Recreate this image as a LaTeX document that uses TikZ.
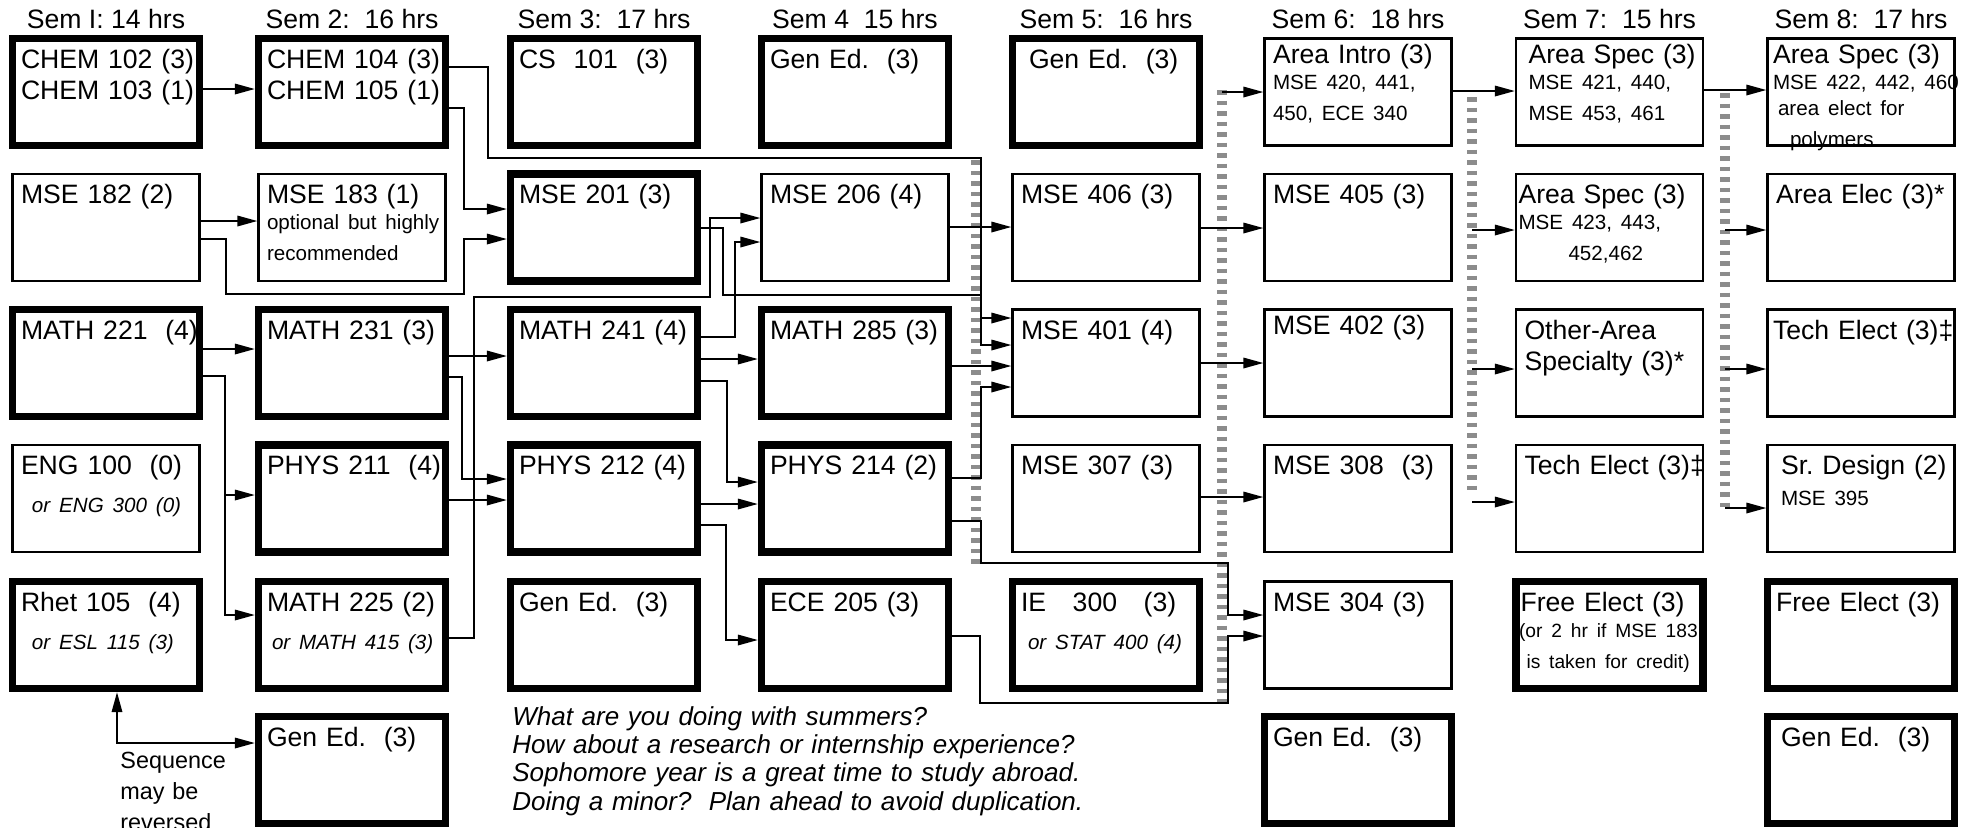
\documentclass[tikz,border=0pt]{standalone}
\usepackage{fontspec}
\setmainfont{Liberation Sans}
\usetikzlibrary{arrows.meta}
\frenchspacing

\newcommand{\subtxt}{\fontsize{10.3}{13}\selectfont}
\newcommand{\alttxt}{\fontsize{10.3}{13}\selectfont\itshape}

\begin{document}
\begin{tikzpicture}[
  x=0.5pt, y=-0.5pt,
  course/.style={draw, line width=1.1pt, text width=85pt, inner xsep=4.25pt, inner ysep=3pt,
    text height=11.75pt, text depth=35.75pt, font=\fontsize{13.3}{15.5}\selectfont,
    execute at begin node={\rightskip=0pt plus 1fil minus 40pt\relax}},
  core/.style={course, line width=3.6pt},
  high/.style={text height=9.25pt, text depth=38.25pt},
  semhead/.style={anchor=base, inner sep=0pt, font=\fontsize{13.3}{16}\selectfont},
  note/.style={anchor=base west, inner sep=0pt, align=left},
  arr/.style={-{Triangle[length=10pt,width=5.2pt]}, line width=1pt},
  twoway/.style={arr, {Triangle[length=10pt,width=5.2pt]}-{Triangle[length=10pt,width=5.2pt]}},
  bus/.style={line width=5pt, black!45, dash pattern=on 2.3pt off 2.95pt}
]
\useasboundingbox (0,0) rectangle (1967,827);

\node[semhead] (sem1) at (106,28) {Sem I: 14 hrs};
\node[semhead] (sem2) at (352,28) {Sem 2:~ 16 hrs};
\node[semhead] (sem3) at (604,28) {Sem 3:~ 17 hrs};
\node[semhead] (sem4) at (855,28) {Sem 4~ 15 hrs};
\node[semhead] (sem5) at (1106,28) {Sem 5:~ 16 hrs};
\node[semhead] (sem6) at (1358,28) {Sem 6:~ 18 hrs};
\node[semhead] (sem7) at (1609.5,28) {Sem 7:~ 15 hrs};
\node[semhead] (sem8) at (1861,28) {Sem 8:~ 17 hrs};

\node[core] (chem102) at (106,92) {CHEM 102 (3)\\CHEM 103 (1)};
\node[course] (mse182) at (106,227.5) {MSE 182 (2)};
\node[core] (math221) at (106,363) {MATH 221~ (4)};
\node[course] (eng100) at (106,498.5) {ENG 100~ (0)\\[3.5pt]\alttxt\hspace*{5.5pt}or ENG 300 (0)};
\node[core] (rhet105) at (106,635) {Rhet 105~ (4)\\[3.5pt]\alttxt\hspace*{5.5pt}or ESL 115 (3)};

\node[core] (chem104) at (352,92) {CHEM 104 (3)\\CHEM 105 (1)};
\node[course] (mse183) at (352,227.5) {MSE 183 (1)\\\subtxt optional but highly\\recommended};
\node[core] (math231) at (352,363) {MATH 231 (3)};
\node[core] (phys211) at (352,498.5) {PHYS 211~ (4)};
\node[core] (math225) at (352,635) {MATH 225 (2)\\[3.5pt]\alttxt\hspace*{2.5pt}or MATH 415 (3)};
\node[core] (gened2) at (352,770) {Gen Ed.~ (3)};

\node[core] (cs101) at (604,92) {CS~ 101~ (3)};
\node[core] (mse201) at (604,227.5) {MSE 201 (3)};
\node[core] (math241) at (604,363) {MATH 241 (4)};
\node[core] (phys212) at (604,498.5) {PHYS 212 (4)};
\node[core] (gened3) at (604,635) {Gen Ed.~ (3)};

\node[core] (gened4) at (855,92) {Gen Ed.~ (3)};
\node[course] (mse206) at (855,227.5) {MSE 206 (4)};
\node[core] (math285) at (855,363) {MATH 285 (3)};
\node[core] (phys214) at (855,498.5) {PHYS 214 (2)};
\node[core] (ece205) at (855,635) {ECE 205 (3)};

\node[core] (gened5) at (1106,92) {\hspace*{4pt}Gen Ed.~ (3)};
\node[course] (mse406) at (1106,227.5) {MSE 406 (3)};
\node[course] (mse401) at (1106,363) {MSE 401 (4)};
\node[course] (mse307) at (1106,498.5) {MSE 307 (3)};
\node[core] (ie300) at (1106,635) {IE~~ 300~~ (3)\\[3.5pt]\alttxt\hspace*{3.5pt}or STAT 400 (4)};

\node[course, high] (intro6) at (1358,92) {Area Intro (3)\\\subtxt MSE 420, 441,\\450, ECE 340};
\node[course] (mse405) at (1358,227.5) {MSE 405 (3)};
\node[course, high] (mse402) at (1358,363) {MSE 402 (3)};
\node[course] (mse308) at (1358,498.5) {MSE 308~ (3)};
\node[course] (mse304) at (1358,635) {MSE 304 (3)};
\node[core] (gened6) at (1358,770) {Gen Ed.~ (3)};

\node[course, high] (spec7a) at (1609.5,92) {\hspace*{2pt}Area Spec (3)\\\subtxt\hspace*{2pt}MSE 421, 440,\\\hspace*{2pt}MSE 453, 461};
\node[course] (spec7b) at (1609.5,227.5) {\hspace*{-3pt}Area Spec (3)\\\subtxt\hspace*{-3pt}MSE 423, 443,\\\hspace*{22pt}452,462};
\node[course] (other7) at (1609.5,363) {Other-Area\\Specialty (3)*};
\node[course] (tech7) at (1609.5,498.5) {Tech Elect (3)\ddag};
\node[core] (free7) at (1609.5,635) {\hspace*{-2pt}Free Elect (3)\\\fontsize{9.6}{13}\selectfont\hspace*{-2.75pt}(or 2 hr if MSE 183\\\hspace*{1pt}is taken for credit)};

\node[course, high] (spec8) at (1861,92) {\hspace*{-1.5pt}Area Spec (3)\\\subtxt\hspace*{-1.5pt}MSE 422, 442, 460\\\hspace*{1pt}area elect for\\\hspace*{7pt}polymers};
\node[course] (elec8) at (1861,227.5) {Area Elec (3)*};
\node[course] (tech8) at (1861,363) {\hspace*{-1.5pt}Tech Elect (3)\ddag};
\node[course] (design8) at (1861,498.5) {\hspace*{2.5pt}Sr. Design (2)\\\subtxt\hspace*{2.5pt}MSE 395};
\node[core] (free8) at (1861,635) {Free Elect (3)};
\node[core] (gened8) at (1861,770) {\hspace*{2.5pt}Gen Ed.~ (3)};

\node[note, text width=60pt, font=\fontsize{11.7}{15.5}\selectfont] (seqnote) at (120,768) {Sequence\\may be\\reversed};
\node[note, text width=300pt, font=\fontsize{13}{14.2}\selectfont\itshape] (summer) at (512,725) {What are you doing with summers?\\How about a research or internship experience?\\Sophomore year is a great time to study abroad.\\Doing a minor?~ Plan ahead to avoid duplication.};

\coordinate (busAt) at (976,160);
\coordinate (busAb) at (976,564);
\coordinate (busBt) at (1222,90);
\coordinate (busBb) at (1222,702);
\coordinate (busCt) at (1472,97);
\coordinate (busCb) at (1472,495);
\coordinate (busDt) at (1725,93);
\coordinate (busDb) at (1725,510);
\draw[bus] (busAt) -- (busAb);
\draw[bus] (busBt) -- (busBb);
\draw[bus] (busCt) -- (busCb);
\draw[bus] (busDt) -- (busDb);

\draw[arr] (chem102.east |- 0,89) -- (chem104.west |- 0,89);
\draw[arr] (chem104.east |- 0,67) -| (488,158) -| (981,318) -- (mse401.west |- 0,318);
\draw[arr] (chem104.east |- 0,108) -| (464,209) -- (mse201.west |- 0,209);
\draw[arr] (mse182.east |- 0,221) -- (mse183.west |- 0,221);
\draw[arr] (mse182.east |- 0,239) -| (226,294) -| (464,239) -- (mse201.west |- 0,239);
\draw[arr] (math221.east |- 0,349) -- (math231.west |- 0,349);
\draw[arr] (math221.east |- 0,376) -| (225,495) -- (phys211.west |- 0,495);
\draw[arr] (math221.east |- 0,376) -| (225,615) -- (math225.west |- 0,615);
\draw[arr] (math231.east |- 0,356) -- (math241.west |- 0,356);
\draw[arr] (math231.east |- 0,377) -| (462,479) -- (phys212.west |- 0,479);
\draw[arr] (phys211.east |- 0,500) -- (phys212.west |- 0,500);
\draw[arr] (math225.east |- 0,638) -| (474,297) -| (710,218) -- (mse206.west |- 0,218);
\draw[arr] (mse201.east |- 0,228) -| (723,295) -| (981,345) -- (mse401.west |- 0,345);
\draw[arr] (math241.east |- 0,337) -| (735,242) -- (mse206.west |- 0,242);
\draw[arr] (math241.east |- 0,359) -- (math285.west |- 0,359);
\draw[arr] (math241.east |- 0,381) -| (727,482) -- (phys214.west |- 0,482);
\draw[arr] (phys212.east |- 0,504) -- (phys214.west |- 0,504);
\draw[arr] (phys212.east |- 0,525) -| (726,640) -- (ece205.west |- 0,640);
\draw[arr] (mse206.east |- 0,227) -- (mse406.west |- 0,227);
\draw[arr] (math285.east |- 0,366) -- (mse401.west |- 0,366);
\draw[arr] (phys214.east |- 0,478) -| (981,387) -- (mse401.west |- 0,387);
\draw[arr] (phys214.east |- 0,521) -| (981,563) -| (1228,615) -- (mse304.west |- 0,615);
\draw[arr] (ece205.east |- 0,636) -| (980,703) -| (1228,636) -- (mse304.west |- 0,636);
\draw[arr] (mse406.east |- 0,228) -- (mse405.west |- 0,228);
\draw[arr] (mse401.east |- 0,363) -- (mse402.west |- 0,363);
\draw[arr] (mse307.east |- 0,497) -- (mse308.west |- 0,497);
\draw[arr] (busBt |- 0,92) -- (intro6.west |- 0,92);
\draw[arr] (intro6.east |- 0,91) -- (spec7a.west |- 0,91);
\draw[arr] (busCt |- 0,230) -- (spec7b.west |- 0,230);
\draw[arr] (busCt |- 0,369) -- (other7.west |- 0,369);
\draw[arr] (busCt |- 0,502) -- (tech7.west |- 0,502);
\draw[arr] (spec7a.east |- 0,90) -- (spec8.west |- 0,90);
\draw[arr] (busDt |- 0,230) -- (elec8.west |- 0,230);
\draw[arr] (busDt |- 0,369) -- (tech8.west |- 0,369);
\draw[arr] (busDt |- 0,508) -- (design8.west |- 0,508);
\draw[twoway] (rhet105.south -| 117,0) |- (gened2.west |- 0,743);
\end{tikzpicture}
\end{document}
